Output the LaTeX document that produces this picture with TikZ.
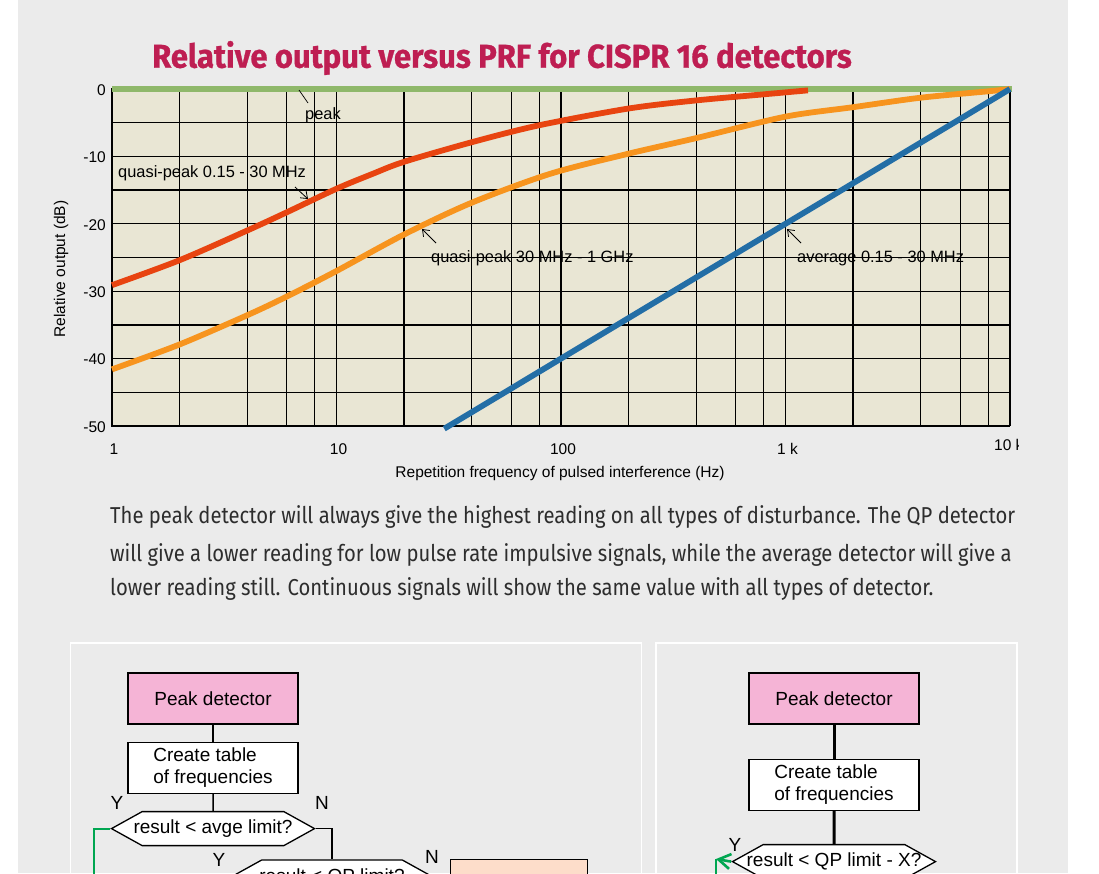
\documentclass[tikz,border=0pt]{standalone}
\usepackage{fontspec}
\setmainfont{Liberation Sans}
\newfontfamily\titlefont{Fira Sans}[FakeStretch=0.94,BoldFeatures={FakeBold=0.8}]
\newfontfamily\bodyfont{Fira Sans}[FakeStretch=0.88]
\usepackage{tikz}
\usetikzlibrary{arrows.meta,positioning,shapes.symbols}
\definecolor{pagegray}{RGB}{235,235,235}
\definecolor{plotbg}{RGB}{233,230,212}
\definecolor{peakgreen}{RGB}{143,184,106}
\definecolor{qpred}{RGB}{232,68,16}
\definecolor{qporange}{RGB}{247,148,30}
\definecolor{avgblue}{RGB}{35,110,166}
\definecolor{titlered}{RGB}{190,30,82}
\definecolor{boxpink}{RGB}{245,180,214}
\definecolor{boxpeach}{RGB}{253,221,202}
\definecolor{yesgreen}{RGB}{0,166,81}
\definecolor{bodygray}{RGB}{45,45,45}

\begin{document}
\begin{tikzpicture}[x=1pt,y=-1pt,>={Straight Barb[length=6pt,width=9pt]},
  grid line/.style={black,line width=1.3pt},
  curve/.style={line width=5.8pt},
  chart text/.style={font=\fontsize{15.5}{17}\selectfont,inner sep=0pt},
  note text/.style={font=\fontsize{16.4}{18}\selectfont,inner sep=0pt,anchor=west},
  note arrow/.style={->,line width=0.8pt},
  body text/.style={font=\bodyfont\fontsize{23}{26}\selectfont,text=bodygray,anchor=west,inner sep=0pt},
  flow text/.style={font=\fontsize{19}{22}\selectfont},
  flow box/.style={flow text,draw,line width=1.3pt,minimum width=170pt,minimum height=51pt,inner sep=0pt,align=left},
  peak box/.style={flow box,fill=boxpink},
  table box/.style={flow box,fill=white},
  test hex/.style={flow text,draw,fill=white,line width=1.3pt,shape=signal,signal to=west and east,
    signal pointer angle=58,minimum height=34pt,minimum width=203pt,inner ysep=0pt,inner xsep=-40pt},
  flow line/.style={line width=1.5pt},
  thick flow line/.style={line width=3pt},
  yes line/.style={yesgreen,line width=2pt}]
  \useasboundingbox (0,0) rectangle (1099,873);
  \clip (0,0) rectangle (1099,873);
  \fill[white] (0,0) rectangle (1099,873);
  \fill[pagegray] (18,0) rectangle (1068,873);
  % panels under the text
  \draw[white,line width=1.2pt] (70.5,643) rectangle (641.5,900);
  \draw[white,line width=1.2pt] (656,643) rectangle (1017,900);

  % chart
  \node[font=\titlefont\bfseries\fontsize{33}{36}\selectfont,text=titlered] (title) at (502,58)
    {Relative output versus PRF for CISPR 16 detectors};
  \fill[plotbg] (112,89) rectangle (1010,426);
  \foreach \d in {0,1,2,3}
    \foreach \m in {2,4,6,8,10}
      \draw[grid line] ({112+224.5*(\d+log10(\m))},89) -- ++(0,337);
  \foreach \v in {5,10,...,45}
    \draw[grid line] (112,{89+6.74*\v}) -- (1010,{89+6.74*\v});
  \draw[line width=2.4pt] (112,88) -- (112,427);
  \draw[line width=1.8pt] (112,426) -- (1010,426);

  \begin{scope}[shift={(112,89)},x=224.5pt,y=6.74pt]
    \draw[curve,peakgreen] (0,0) -- (4.01,0);
    \draw[curve,qpred] plot[smooth] coordinates {(0,-29.1) (0.301,-25.4) (0.602,-21.0) (0.778,-18.3)
      (1,-14.8) (1.16,-12.6) (1.301,-10.8) (1.602,-7.9) (1.9,-5.4) (2.3,-2.9) (2.6,-1.7) (2.9,-0.8) (3.1,-0.2)};
    \draw[curve,qporange] plot[smooth] coordinates {(0,-41.6) (0.301,-37.9) (0.6,-33.6) (0.778,-30.8)
      (1,-27.0) (1.3,-21.6) (1.6,-16.9) (1.95,-12.6) (2.3,-9.6) (2.6,-7.3) (3.0,-4.1) (3.3,-2.7)
      (3.6,-1.3) (3.9,-0.35) (4,0)};
    \draw[curve,avgblue] (1.48,-50.4) -- (4,0);
  \end{scope}

  % curve notes
  \node[note text] (peaklab) at (305,115) {peak};
  \coordinate (pka) at (299,90);
  \coordinate (pkb) at (308,103);
  \draw[line width=0.7pt] (pka) -- (pkb);
  \node[note text] (qplab) at (118,173) {quasi-peak 0.15 - 30 MHz};
  \coordinate (qpa) at (295,187);
  \coordinate (qpb) at (308,199);
  \draw[note arrow] (qpa) -- (qpb);
  \node[note text] (qpglab) at (431,258) {quasi-peak 30 MHz - 1 GHz};
  \coordinate (qpga) at (436,243);
  \coordinate (qpgb) at (422,229);
  \draw[note arrow] (qpga) -- (qpgb);
  \node[note text] (avglab) at (797,258) {average 0.15 - 30 MHz};
  \coordinate (avga) at (801,243);
  \coordinate (avgb) at (787,229);
  \draw[note arrow] (avga) -- (avgb);

  % axes labels
  \foreach \v/\t in {0/0,10/-10,20/-20,30/-30,40/-40,50/-50}
    \node[chart text,anchor=east] at (106,{90+6.74*\v}) {\t};
  \foreach \d/\t in {0/1,1/10,2/100,3/1 k}
    \node[chart text] at ({114+224.5*\d},449) {\t};
  \begin{scope}
    \clip (900,430) rectangle (1018,460);
    \node[chart text,anchor=west] (tenk) at (994,445) {10 k};
  \end{scope}
  \node[chart text] (xlab) at (560,473) {Repetition frequency of pulsed interference (Hz)};
  \node[chart text,rotate=90] (ylab) at (61,269) {Relative output (dB)};

  % text
  \node[body text] (para1) at (110,517) {The peak detector will always give the highest reading on all types of disturbance. The QP detector};
  \node[body text] (para2) at (110,555) {will give a lower reading for low pulse rate impulsive signals, while the average detector will give a};
  \node[body text] (para3) at (110,589) {lower reading still. Continuous signals will show the same value with all types of detector.};

  % left flow chart
  \node[peak box,align=center] (lpeak) at (213,698.5) {Peak detector};
  \node[table box,below=17pt of lpeak] (ltable) {Create table\\of frequencies};
  \node[test hex,below=17pt of ltable] (lavg) {result < avge limit?};
  \node[test hex,minimum width=202pt] (lqp) at (332,877) {result < QP limit?};
  \node[flow box,fill=boxpeach,minimum width=137pt,minimum height=60pt,anchor=north west] (lfix) at (450,859) {};
  \path[flow line] (lpeak) edge (ltable)
    (ltable) edge (lavg);
  \draw[flow line] (lavg.east) -| (lqp.north);
  \coordinate (lyes) at (94,890);
  \draw[yes line] (lavg.west) -| (lyes);
  \node[flow text] at (117,803) {Y};
  \node[flow text] at (322,803) {N};
  \node[flow text] at (219,860) {Y};
  \node[flow text] at (432,857) {N};

  % right flow chart
  \node[peak box,align=center] (rpeak) at (834,698.5) {Peak detector};
  \node[table box,below=34pt of rpeak] (rtable) {Create table\\of frequencies};
  \node[test hex,below=33pt of rtable] (rqp) {result < QP limit - X?};
  \path[thick flow line] (rpeak) edge (rtable)
    (rtable) edge (rqp);
  \coordinate (rcorner) at (716,859);
  \coordinate (ryes) at (716,890);
  \draw[yes line,line width=2.6pt,-{Straight Barb[length=12pt,width=15pt]}] (rqp.west) -- (rcorner);
  \draw[yes line,line width=2.6pt] (rcorner) -- (ryes);
  \node[flow text] at (735,845) {Y};
\end{tikzpicture}
\end{document}
